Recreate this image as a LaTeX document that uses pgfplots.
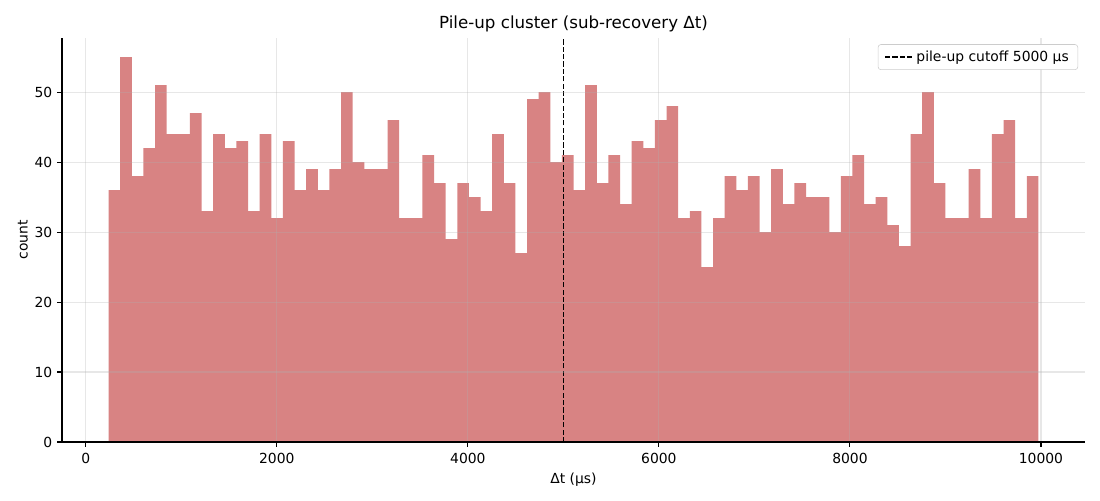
\documentclass[border=0pt]{standalone}
\usepackage{pgfplots}
\pgfplotsset{compat=1.18}
\usepackage{fontspec}
\setmainfont{DejaVu Sans}
\definecolor{barc}{RGB}{216,131,131}
\definecolor{gridc}{RGB}{176,176,176}
\definecolor{legc}{RGB}{204,204,204}
\pgfplotstableread{
x y
238.0 36
359.7 55
481.4 38
603.1 42
724.8 51
846.5 44
968.2 44
1089.9 47
1211.6 33
1333.3 44
1455.0 42
1576.7 43
1698.4 33
1820.1 44
1941.8 32
2063.5 43
2185.2 36
2306.9 39
2428.6 36
2550.3 39
2672.0 50
2793.7 40
2915.4 39
3037.1 39
3158.8 46
3280.5 32
3402.2 32
3523.9 41
3645.6 37
3767.3 29
3889.0 37
4010.7 35
4132.4 33
4254.1 44
4375.8 37
4497.5 27
4619.2 49
4740.9 50
4862.6 40
4984.3 41
5106.0 36
5227.7 51
5349.4 37
5471.1 41
5592.8 34
5714.5 43
5836.2 42
5957.9 46
6079.6 48
6201.3 32
6323.0 33
6444.7 25
6566.4 32
6688.1 38
6809.8 36
6931.5 38
7053.2 30
7174.9 39
7296.6 34
7418.3 37
7540.0 35
7661.7 35
7783.4 30
7905.1 38
8026.8 41
8148.5 34
8270.2 35
8391.9 31
8513.6 28
8635.3 44
8757.0 50
8878.7 37
9000.4 32
9122.1 32
9243.8 39
9365.5 32
9487.2 44
9608.9 46
9730.6 32
9852.3 38
9974.0 38
}\histdata
\begin{document}
\begin{tikzpicture}
\path[use as bounding box] (-44.64pt,-41.76pt) rectangle (747.36pt,318.24pt);
\begin{axis}[
  at={(0,0)}, anchor=south west,
  scale only axis, width=736.56pt, height=290.88pt,
  xmin=-249, xmax=10461, ymin=0, ymax=57.75,
  axis x line*=bottom, axis y line*=left,
  axis line style={-, line width=0.8pt},
  axis on top,
  xtick={0,2000,...,10000}, ytick={0,10,...,50},
  scaled x ticks=false, scaled y ticks=false,
  tick align=outside, major tick length=3.5pt,
  tick style={line width=0.8pt, black},
  /pgf/number format/1000 sep={},
  /pgf/number format/assume math mode=true,
  ticklabel style={font=\fontsize{10}{12}\selectfont},
  xticklabel style={yshift=-1pt},
  grid=major,
  major grid style={draw=gridc, opacity=0.3, line width=0.8pt},
  title={Pile-up cluster (sub-recovery Δt)},
  title style={font=\fontsize{12}{14}\selectfont, yshift=-5.5pt},
  xlabel={Δt (μs)}, ylabel={count},
  label style={font=\fontsize{10}{12}\selectfont},
  xlabel style={yshift=0.5pt},
  ylabel style={yshift=-2pt},
  legend style={at={(1,1)}, anchor=north east, xshift=-5pt, yshift=-4.5pt,
    draw=legc, rounded corners=2pt, font=\fontsize{10}{12}\selectfont,
    inner xsep=4.5pt, inner ysep=2.5pt},
  legend cell align=left,
  legend image code/.code={\draw[#1] (0pt,0pt) -- (20pt,0pt);},
]
\addplot[ybar interval, fill=barc, draw=none, forget plot] table[x=x,y=y] {\histdata};
\addplot[black, line width=1.1pt, dash pattern=on 3.7pt off 1.6pt] coordinates {(5000,0) (5000,57.75)};
\addlegendentry{pile-up cutoff 5000 μs}
\end{axis}
\end{tikzpicture}
\end{document}
